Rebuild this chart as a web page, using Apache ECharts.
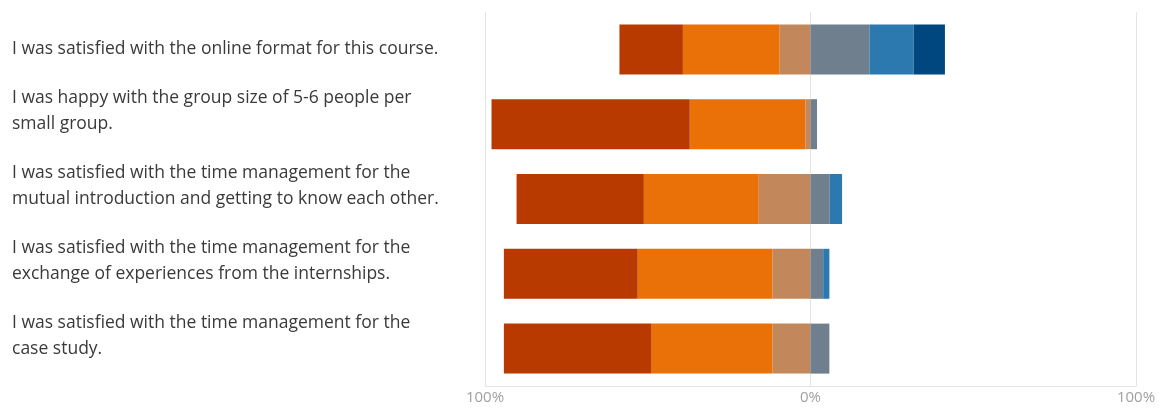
<!DOCTYPE html>
<html>
<head>
<meta charset="utf-8">
<script src="https://cdn.jsdelivr.net/npm/echarts@6/dist/echarts.min.js"></script>
<style>
  html, body { margin: 0; padding: 0; background: #fff; }
  #chart { width: 1167px; height: 410px; }
</style>
</head>
<body>
<div id="chart"></div>
<script>
// statements, top to bottom
const categories = [
  'I was satisfied with the online format for this course.',
  'I was happy with the group size of 5-6 people per\nsmall group.',
  'I was satisfied with the time management for the\nmutual introduction and getting to know each other.',
  'I was satisfied with the time management for the\nexchange of experiences from the internships.',
  'I was satisfied with the time management for the\ncase study.'
]

// percent of answers, negative side (drawn left of 0%)
const stronglyDisagree = [19.5, 60.9, 39.1, 41.1, 45.2]
const disagree = [29.7, 35.5, 35.3, 41.4, 37.3]
const slightlyDisagree = [9.5, 1.6, 15.9, 11.7, 11.7]
// positive side (drawn right of 0%)
const slightlyAgree = [18.1, 2.0, 5.9, 3.9, 5.8]
const agree = [13.6, 0, 3.8, 1.9, 0]
const stronglyAgree = [9.6, 0, 0, 0, 0]

const xTicks = [-100, 0, 100]

const neg = arr => arr.map(v => -v)

function bar(name, data, color) {
  return {
    name: name,
    type: 'bar',
    stack: 'total',
    barWidth: 50,
    data: data,
    itemStyle: { color: color },
    emphasis: { disabled: true }
  }
}

const chart = echarts.init(document.getElementById('chart'))
chart.setOption({
  animation: false,
  grid: { left: 485, right: 31, top: 12, bottom: 24 },
  xAxis: {
    type: 'value',
    min: xTicks[0],
    max: xTicks[xTicks.length - 1],
    interval: 100,
    axisLine: { show: true, lineStyle: { color: '#e4e4e4' } },
    axisTick: { show: false },
    splitLine: { show: true, lineStyle: { color: '#e4e4e4' } },
    axisLabel: {
      color: '#a0a0a0',
      fontSize: 15,
      fontFamily: 'Open Sans',
      margin: 4,
      formatter: v => Math.abs(v) + '%'
    }
  },
  yAxis: {
    type: 'category',
    inverse: true,
    data: categories,
    axisLine: { show: false },
    axisTick: { show: false },
    splitLine: { show: false },
    axisLabel: {
      interval: 0,
      align: 'left',
      margin: 473,
      color: '#3a3a3a',
      fontSize: 17.5,
      fontFamily: 'Open Sans',
      lineHeight: 26,
      // two-line labels sit with their second line on the bar centre
      formatter: v => v.indexOf('\n') >= 0 ? v + '\n ' : v
    }
  },
  series: [
    bar('Slightly disagree', neg(slightlyDisagree), '#c2885c'),
    bar('Disagree', neg(disagree), '#e97107'),
    bar('Strongly disagree', neg(stronglyDisagree), '#b93a00'),
    bar('Slightly agree', slightlyAgree, '#6f7f8e'),
    bar('Agree', agree, '#2c79b0'),
    bar('Strongly agree', stronglyAgree, '#00467f')
  ]
})
</script>
</body>
</html>
